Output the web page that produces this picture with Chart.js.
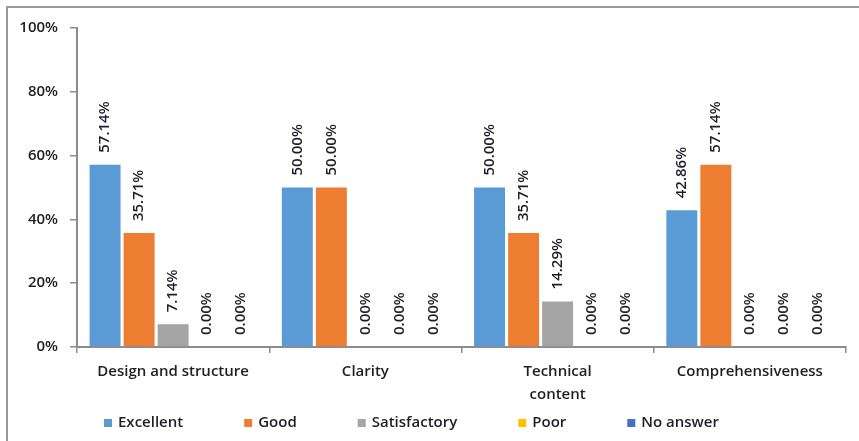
<!DOCTYPE html>
<html>
<head>
<meta charset="utf-8">
<script src="https://cdn.jsdelivr.net/npm/chart.js@4.4.0/dist/chart.umd.min.js"></script>
<style>
  html, body { margin: 0; padding: 0; background: #fff; }
  #wrap { width: 859px; height: 441px; }
</style>
</head>
<body>
<div id="wrap"><canvas id="chart" width="859" height="441"></canvas></div>
<script>
// survey answers per criterion, in percent
const categories = ['Design and structure', 'Clarity', ['Technical', 'content'], 'Comprehensiveness'];
const excellent = [57.14, 50.00, 50.00, 42.86];
const good = [35.71, 50.00, 35.71, 57.14];
const satisfactory = [7.14, 0, 14.29, 0];
const poor = [0, 0, 0, 0];
const noAnswer = [0, 0, 0, 0];
const yTicks = [0, 20, 40, 60, 80, 100];

const FONT = '"Open Sans", Lato, sans-serif';
const TEXT = '#1e1e28';

const series = [
  { label: 'Excellent', data: excellent, color: '#5B9BD5' },
  { label: 'Good', data: good, color: '#ED7D31' },
  { label: 'Satisfactory', data: satisfactory, color: '#A5A5A5' },
  { label: 'Poor', data: poor, color: '#FFC000' },
  { label: 'No answer', data: noAnswer, color: '#4472C4' }
];

// frame around the chart (only top/left edges are visible in the picture)
const framePlugin = {
  id: 'frame',
  beforeDraw(chart) {
    const ctx = chart.ctx;
    ctx.save();
    ctx.strokeStyle = '#9a9a9a';
    ctx.lineWidth = 2;
    ctx.beginPath();
    ctx.moveTo(7, chart.height + 5);
    ctx.lineTo(7, 7);
    ctx.lineTo(chart.width + 5, 7);
    ctx.stroke();
    ctx.restore();
  }
};

// rotated value labels above every bar
const valueLabels = {
  id: 'valueLabels',
  afterDatasetsDraw(chart) {
    const ctx = chart.ctx;
    ctx.save();
    ctx.font = '600 15px ' + FONT;
    ctx.fillStyle = TEXT;
    ctx.textAlign = 'left';
    ctx.textBaseline = 'middle';
    chart.data.datasets.forEach((ds, i) => {
      chart.getDatasetMeta(i).data.forEach((bar, j) => {
        ctx.save();
        ctx.translate(bar.x, bar.y - 12);
        ctx.rotate(-Math.PI / 2);
        ctx.fillText(ds.data[j].toFixed(2) + '%', 0, 0);
        ctx.restore();
      });
    });
    ctx.restore();
  }
};

// single-row legend with wide gaps, like the spreadsheet one
const rowLegend = {
  id: 'rowLegend',
  afterDraw(chart) {
    const ctx = chart.ctx;
    const box = 8, gap = 6, spacing = 61;
    ctx.save();
    ctx.font = '600 15px ' + FONT;
    ctx.textBaseline = 'middle';
    const y = chart.height - 18;
    let x = chart.chartArea.left + 27;
    chart.data.datasets.forEach(ds => {
      ctx.fillStyle = ds.backgroundColor;
      ctx.fillRect(x, y - box / 2, box, box);
      ctx.fillStyle = TEXT;
      ctx.fillText(ds.label, x + box + gap, y);
      x += box + gap + ctx.measureText(ds.label).width + spacing;
    });
    ctx.restore();
  }
};

new Chart(document.getElementById('chart'), {
  type: 'bar',
  data: {
    labels: categories,
    datasets: series.map(s => ({
      label: s.label,
      data: s.data,
      backgroundColor: s.color,
      borderWidth: 0,
      categoryPercentage: 0.885,
      barPercentage: 0.91
    }))
  },
  options: {
    responsive: false,
    animation: false,
    layout: { padding: { top: 28, left: 0, right: 13, bottom: 34 } },
    plugins: {
      tooltip: { enabled: false },
      legend: { display: false }
    },
    scales: {
      x: {
        afterFit: s => { s.height = 60; },
        grid: { offset: true, drawOnChartArea: false, tickLength: 6, color: '#8c8c8c', lineWidth: 1.5 },
        border: { color: '#8c8c8c', width: 2 },
        ticks: { color: TEXT, font: { family: FONT, size: 15, weight: '600', lineHeight: 1.55 }, padding: 7, maxRotation: 0 }
      },
      y: {
        min: 0,
        max: 100,
        afterFit: s => { s.width = 77; },
        afterBuildTicks: s => { s.ticks = yTicks.map(v => ({ value: v })); },
        grid: { drawOnChartArea: false, tickLength: 7, color: '#8c8c8c', lineWidth: 1.5 },
        border: { color: '#8c8c8c', width: 2 },
        ticks: { color: TEXT, font: { family: FONT, size: 15, weight: '600' }, padding: 12, callback: v => v + '%' }
      }
    }
  },
  plugins: [framePlugin, valueLabels, rowLegend]
});
</script>
</body>
</html>
